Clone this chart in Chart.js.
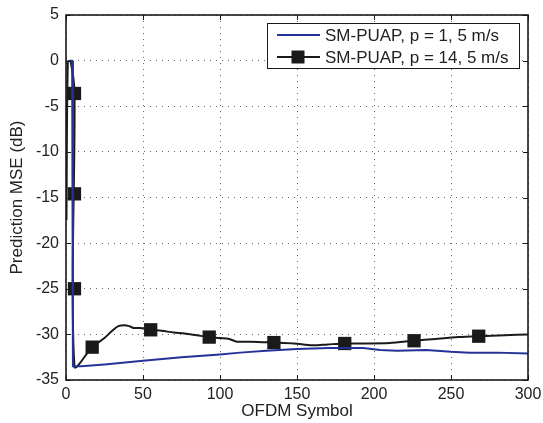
<!DOCTYPE html>
<html>
<head>
<meta charset="utf-8">
<script src="https://cdn.jsdelivr.net/npm/chart.js@4/dist/chart.umd.min.js"></script>
<style>
  html, body { margin: 0; padding: 0; background: #fff; }
  #wrap { width: 543px; height: 423px; }
</style>
</head>
<body>
<div id="wrap"><canvas id="mseChart" width="543" height="423"></canvas></div>
<script>
// series names
const seriesNames = ['SM-PUAP, p = 1, 5 m/s', 'SM-PUAP, p = 14, 5 m/s'];

// p = 1 (blue) curve
const blueX = [2.5, 4, 4.5, 10, 25, 50, 75, 100, 113, 130, 150, 171, 193, 204, 215, 234, 250, 262, 280, 300];
const blueY = [0, 0, -33.5, -33.5, -33.3, -32.9, -32.5, -32.2, -32.0, -31.8, -31.6, -31.5, -31.5, -31.7, -31.8, -31.7, -31.9, -32.0, -32.0, -32.1];

// p = 14 (black) curve
const blackX = [0.3, 1.2, 3, 5.5, 5.5, 17, 25, 30, 34, 38, 41, 44, 48, 55, 62, 70, 77, 85, 93, 100, 106, 111, 120, 135, 148, 160, 170, 181, 195, 210, 226, 240, 255, 268, 285, 300];
const blackY = [-17.5, -0.1, -0.1, -3.6, -33.5, -31.4, -30.4, -29.6, -29.1, -29.0, -29.1, -29.3, -29.3, -29.5, -29.6, -29.8, -29.9, -30.1, -30.3, -30.4, -30.5, -30.8, -30.8, -30.9, -31.0, -31.2, -31.1, -31.0, -31.0, -30.95, -30.7, -30.5, -30.3, -30.2, -30.1, -30.0];

// square markers on the black curve
const markerX = [5.5, 5.5, 5.5, 17, 55, 93, 135, 181, 226, 268];
const markerY = [-3.6, -14.6, -25, -31.4, -29.5, -30.3, -30.9, -31.0, -30.7, -30.2];

// axis ticks
const xTicks = [0, 50, 100, 150, 200, 250, 300];
const yTicks = [5, 0, -5, -10, -15, -20, -25, -30, -35];

const BLUE = '#23339a';
const BLACK = '#1a1a1a';
const FONT = '"Liberation Sans", Arial, Helvetica, sans-serif';

function toPoints(xs, ys) {
    return xs.map((x, i) => ({ x: x, y: ys[i] }));
}

// box around the plot with inward tick marks, and the legend box
const boxPlugin = {
    id: 'boxPlugin',
    afterDatasetsDraw(chart) {
        const ctx = chart.ctx;
        const a = chart.chartArea;
        const xs = chart.scales.x, ys = chart.scales.y;
        ctx.save();
        ctx.strokeStyle = BLACK;
        ctx.lineWidth = 1;
        ctx.beginPath();
        xTicks.forEach(v => {
            const px = Math.round(xs.getPixelForValue(v)) + 0.5;
            ctx.moveTo(px, a.bottom); ctx.lineTo(px, a.bottom - 5);
            ctx.moveTo(px, a.top); ctx.lineTo(px, a.top + 5);
        });
        yTicks.forEach(v => {
            const py = Math.round(ys.getPixelForValue(v)) + 0.5;
            ctx.moveTo(a.left, py); ctx.lineTo(a.left + 5, py);
            ctx.moveTo(a.right, py); ctx.lineTo(a.right - 5, py);
        });
        ctx.stroke();
        ctx.lineWidth = 1.6;
        ctx.strokeRect(a.left, a.top, a.right - a.left, a.bottom - a.top);

        // legend
        const lx = 267, ly = 23, lw = 252, lh = 45;
        ctx.fillStyle = '#fff';
        ctx.fillRect(lx, ly, lw, lh);
        ctx.lineWidth = 1;
        ctx.strokeStyle = BLACK;
        ctx.strokeRect(lx + 0.5, ly + 0.5, lw, lh);
        const rows = [35, 57];
        const colors = [BLUE, BLACK];
        rows.forEach((ry, i) => {
            ctx.strokeStyle = colors[i];
            ctx.lineWidth = 2;
            ctx.beginPath();
            ctx.moveTo(277, ry); ctx.lineTo(320, ry);
            ctx.stroke();
            if (i === 1) {
                ctx.fillStyle = BLACK;
                ctx.fillRect(298 - 6.5, ry - 6.5, 13, 13);
            }
            ctx.fillStyle = '#222';
            ctx.font = '17px ' + FONT;
            ctx.textBaseline = 'middle';
            ctx.textAlign = 'left';
            ctx.fillText(seriesNames[i], 325, ry + 1);
        });
        ctx.restore();
    }
};

const ctx = document.getElementById('mseChart').getContext('2d');
new Chart(ctx, {
    type: 'scatter',
    data: {
        datasets: [
            {
                label: seriesNames[0],
                data: toPoints(blueX, blueY),
                showLine: true,
                borderColor: BLUE,
                borderWidth: 2,
                pointRadius: 0,
                tension: 0
            },
            {
                label: seriesNames[1],
                data: toPoints(blackX, blackY),
                showLine: true,
                borderColor: BLACK,
                borderWidth: 2,
                pointRadius: 0,
                tension: 0.3
            },
            {
                label: 'markers',
                data: toPoints(markerX, markerY),
                showLine: false,
                pointStyle: 'rect',
                pointRadius: 9.4,
                backgroundColor: BLACK,
                borderColor: BLACK,
                borderWidth: 0
            }
        ]
    },
    options: {
        responsive: false,
        animation: false,
        layout: { padding: { top: 15, right: 15, left: 0, bottom: 0 } },
        plugins: {
            legend: { display: false },
            tooltip: { enabled: false }
        },
        scales: {
            x: {
                type: 'linear',
                min: 0,
                max: 300,
                afterFit: s => { s.height = 43; s.paddingLeft = 0; s.paddingRight = 0; },
                afterBuildTicks: s => { s.ticks = xTicks.map(v => ({ value: v })); },
                ticks: { color: '#222', font: { family: FONT, size: 16 }, padding: 5, maxRotation: 0 },
                grid: { color: '#666', lineWidth: 1, drawTicks: false },
                border: { display: false, dash: [1, 5] },
                title: { display: true, text: 'OFDM Symbol', color: '#222', font: { family: FONT, size: 17 }, padding: { top: 0, bottom: 1 } }
            },
            y: {
                type: 'linear',
                min: -35,
                max: 5,
                afterFit: s => { s.width = 66; s.paddingTop = 0; s.paddingBottom = 0; },
                afterBuildTicks: s => { s.ticks = yTicks.map(v => ({ value: v })); },
                ticks: { color: '#222', font: { family: FONT, size: 16 }, padding: 7 },
                grid: { color: '#666', lineWidth: 1, drawTicks: false },
                border: { display: false, dash: [1, 5] },
                title: { display: true, text: 'Prediction MSE (dB)', color: '#222', font: { family: FONT, size: 17 }, padding: { top: 7, bottom: 0 } }
            }
        }
    },
    plugins: [boxPlugin]
});
</script>
</body>
</html>
